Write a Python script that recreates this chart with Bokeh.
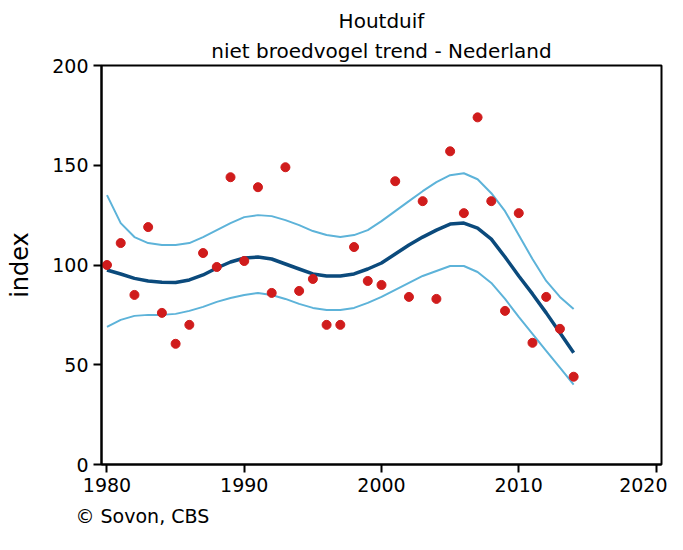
from bokeh.plotting import figure
from bokeh.models import Range1d, Title, FixedTicker
from bokeh.embed import file_html
from bokeh.resources import INLINE

years = list(range(1980, 2015))
index_values = [100, 111, 85, 119, 76, 60.5, 70, 106, 99, 144,
                102, 139, 86, 149, 87, 93, 70, 70, 109, 92,
                90, 142, 84, 132, 83, 157, 126, 174, 132, 77,
                126, 61, 84, 68, 44]
trend = [97.5, 95.5, 93.3, 92, 91.3, 91.2, 92.5, 95, 98.5, 101.5,
         103.5, 104, 103, 100.5, 98, 95.5, 94.5, 94.5, 95.5, 98,
         101, 105.5, 110, 114, 117.5, 120.5, 121, 118.5, 113, 104,
         94.5, 85.5, 76, 66, 56]
upper = [135, 121, 114, 111, 110, 110, 111, 114, 117.5, 121,
         124, 125, 124.5, 122.5, 120, 117, 115, 114, 115, 117.5,
         122, 127, 132, 137, 141.5, 145, 146, 143, 136, 127,
         115, 103, 92, 84, 78]
lower = [69, 72.5, 74.5, 75, 75, 75.5, 77, 79, 81.5, 83.5,
         85, 86, 85, 83, 80.5, 78.5, 77.5, 77.5, 78.5, 81,
         84, 87.5, 91, 94.5, 97, 99.5, 99.5, 96.5, 91, 83,
         74, 65.5, 57, 48.5, 40]
x_ticks = [1980, 1990, 2000, 2010, 2020]
y_ticks = [0, 50, 100, 150, 200]

FONT = "DejaVu Sans"

p = figure(width=667, height=534, output_backend="svg", toolbar_location=None,
           x_range=Range1d(1979.6, 2020.4), y_range=Range1d(0, 200),
           min_border_left=101, min_border_right=6, min_border_top=65, min_border_bottom=69)
p.title.text = ""
p.title.visible = False

sub = Title(text="niet broedvogel trend - Nederland", align="center",
            text_font=FONT, text_font_size="20px", text_font_style="normal",
            text_color="black", standoff=5, offset=0)
main = Title(text="Houtduif", align="center",
             text_font=FONT, text_font_size="20px", text_font_style="normal",
             text_color="black", standoff=3, offset=0)
p.add_layout(sub, "above")
p.add_layout(main, "above")

credit = Title(text="© Sovon, CBS", align="left", offset=-26,
               text_font=FONT, text_font_size="19px", text_font_style="normal",
               text_color="black", standoff=16)
p.add_layout(credit, "below")

p.xgrid.visible = False
p.ygrid.visible = False
p.outline_line_color = "black"
p.outline_line_width = 2
p.outline_line_alpha = 1
p.background_fill_color = "white"
p.border_fill_color = "white"

for ax in (p.xaxis[0], p.yaxis[0]):
    ax.axis_line_width = 2
    ax.axis_line_color = "black"
    ax.major_tick_line_width = 2
    ax.major_tick_line_color = "black"
    ax.major_tick_in = 0
    ax.major_tick_out = 8
    ax.minor_tick_line_color = None
    ax.major_label_text_font = FONT
    ax.major_label_text_font_size = "19px"
    ax.major_label_text_color = "black"

p.xaxis[0].ticker = FixedTicker(ticks=x_ticks)
p.yaxis[0].ticker = FixedTicker(ticks=y_ticks)
p.xaxis[0].major_label_standoff = 5
p.yaxis[0].major_label_standoff = 5
p.yaxis[0].axis_label = "index"
p.yaxis[0].axis_label_text_font = FONT
p.yaxis[0].axis_label_text_font_size = "24px"
p.yaxis[0].axis_label_text_font_style = "normal"
p.yaxis[0].axis_label_text_color = "black"
p.yaxis[0].axis_label_standoff = 15

p.line(years, upper, line_color="#5db3d9", line_width=2)
p.line(years, lower, line_color="#5db3d9", line_width=2)
p.line(years, trend, line_color="#0b4a7c", line_width=3.5)
p.scatter(years, index_values, size=9, fill_color="#d01c1c", line_color="#d01c1c")

open("out.html", "w").write(file_html(p, INLINE))
